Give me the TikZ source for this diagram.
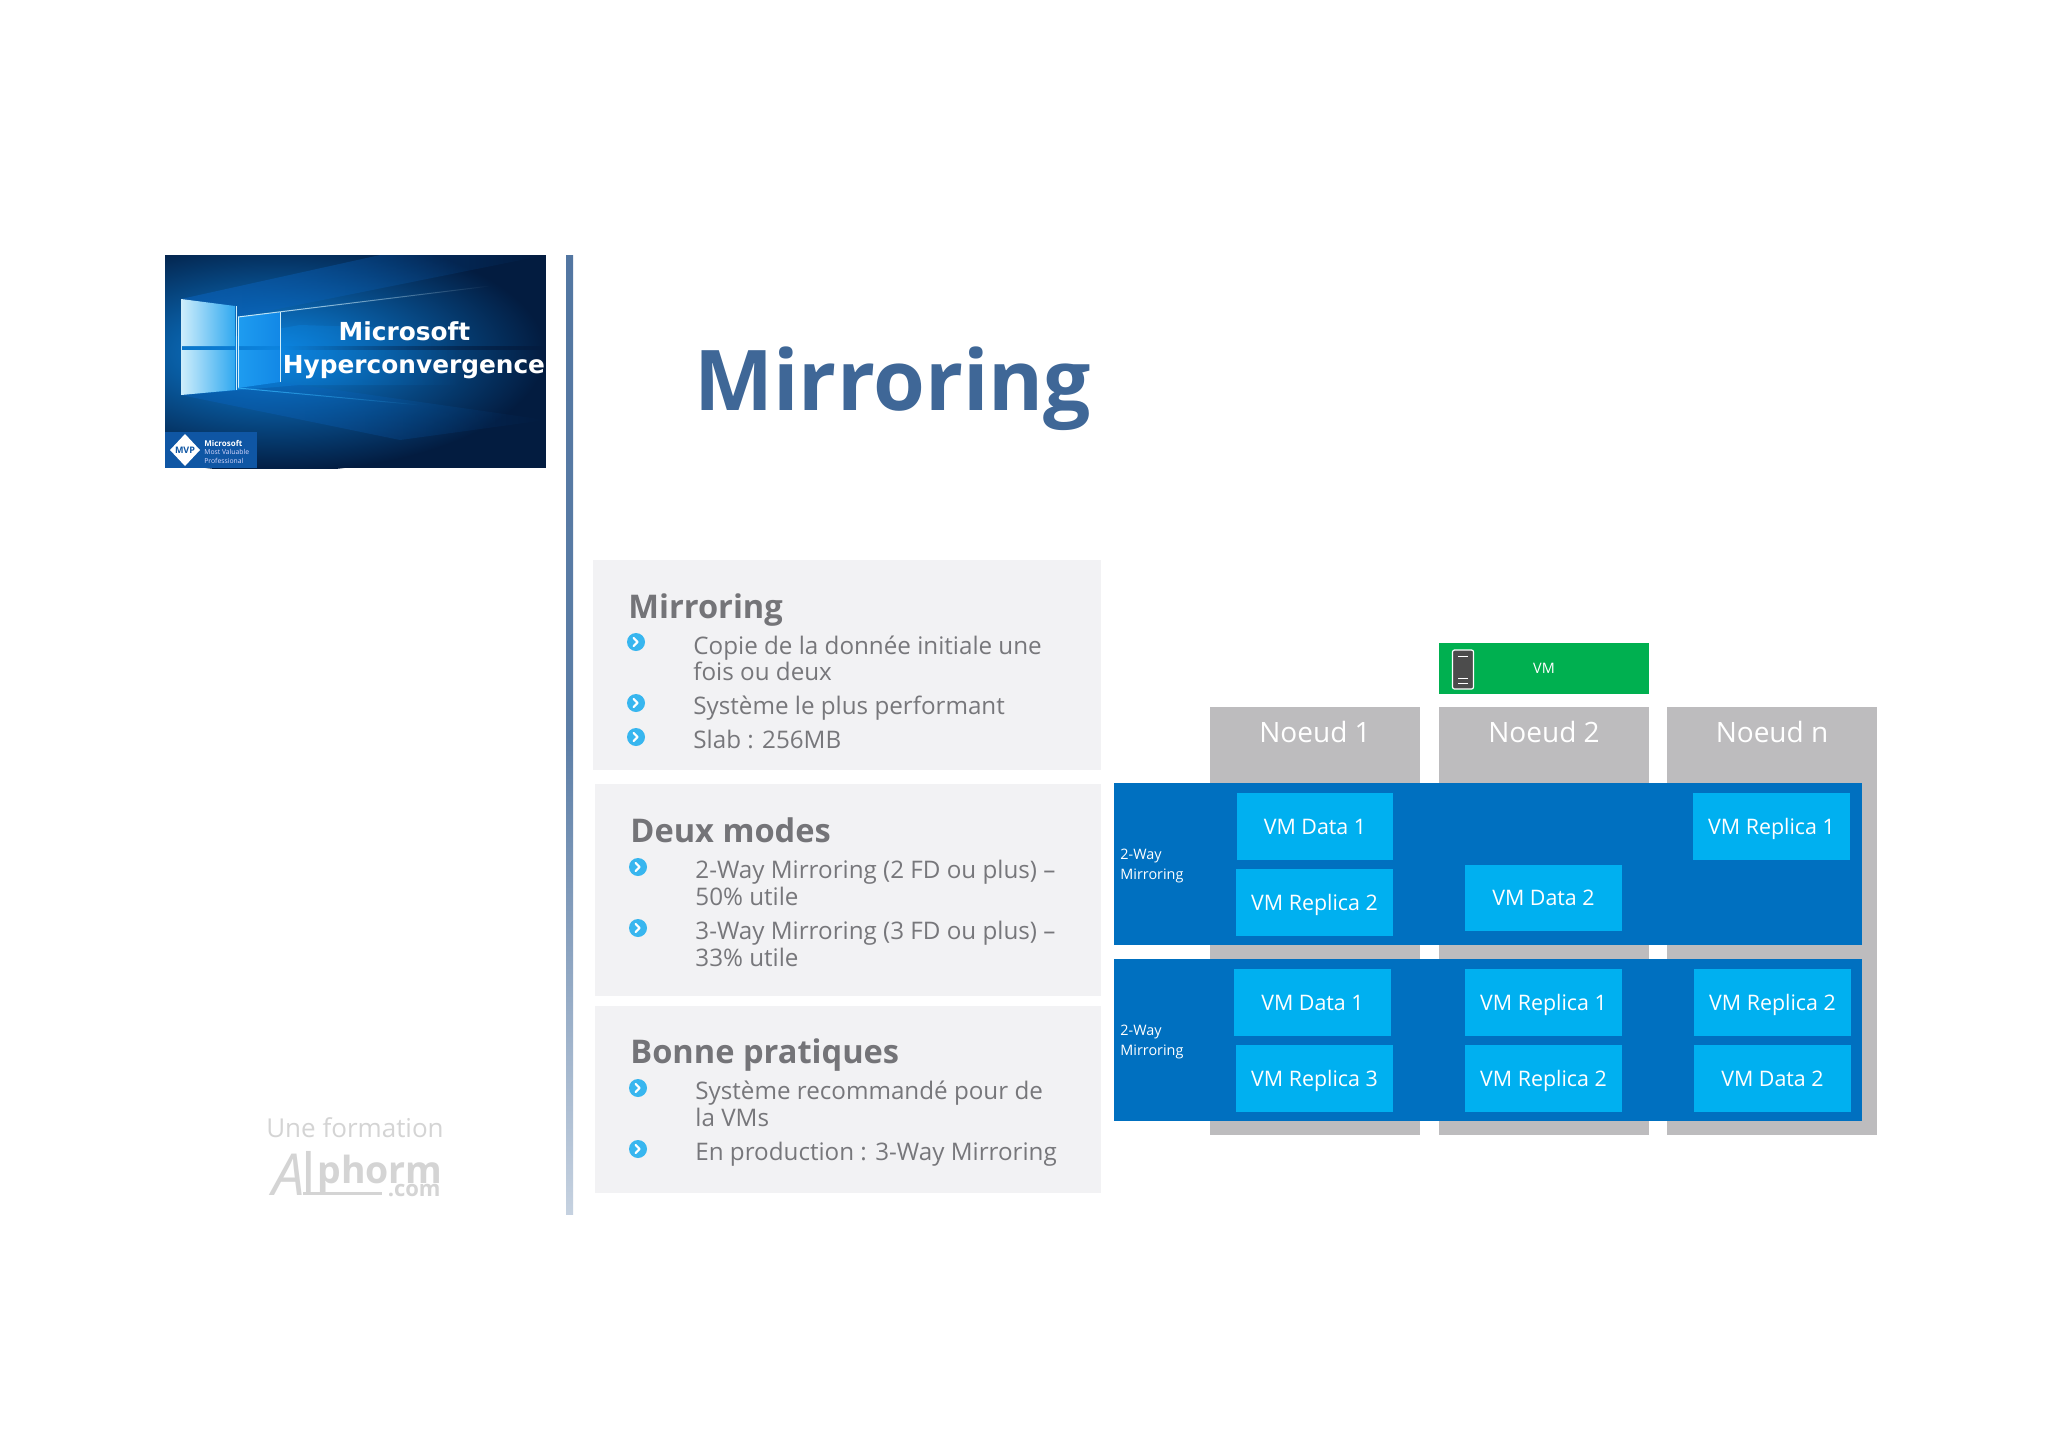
\documentclass[tikz,border=0pt]{standalone}
\usepackage{fontspec}
\setmainfont{Open Sans}
\newfontfamily\logofont{DejaVu Sans}
\usetikzlibrary{fadings}
\definecolor{grayc}{HTML}{BDBCBE}
\definecolor{zonec}{HTML}{0070C0}
\definecolor{boxc}{HTML}{00B0F0}
\definecolor{greenc}{HTML}{00B050}
\definecolor{panelc}{HTML}{F2F2F4}
\definecolor{bodyc}{HTML}{77777B}
\definecolor{headc}{HTML}{747478}
\definecolor{titlec}{HTML}{3F6797}
\definecolor{bulletc}{HTML}{38B6EF}
\definecolor{navyc}{HTML}{031C40}
\definecolor{logoc}{HTML}{D4D4D4}
\definecolor{glowc}{HTML}{0C86E2}
\definecolor{beamc}{HTML}{0A62BC}
\definecolor{paneA}{HTML}{CFEEFB}
\definecolor{paneB}{HTML}{2FA8F0}
\definecolor{paneC}{HTML}{1E9CF0}
\definecolor{paneD}{HTML}{1288E6}
\definecolor{mvpc}{HTML}{0F56A4}
\newcommand{\fsz}[1]{\fontsize{#1pt}{#1pt}\selectfont}
\newcommand{\bul}[3]{%
  \node[bulletdot] (#1) at (#2,#3) {};
  \draw[white,line width=1.1pt,line cap=round,line join=round] ([xshift=-1.2pt,yshift=2pt]#1.center) -- ([xshift=0.8pt]#1.center) -- ([xshift=-1.2pt,yshift=-2pt]#1.center);}
\newcommand{\vmbox}[6]{\path[fill=boxc] (#2,#3) rectangle (#4,#5) node[midway,text=white,font=\fsz{10.7},text height=0.9em,text depth=0.13em] (#1) {#6};}
\tikzset{
  bulletdot/.style={circle,fill=bulletc,minimum size=9pt,inner sep=0pt},
  bodytext/.style={anchor=base west,inner sep=0pt,text=bodyc,font=\fsz{12.1},align=left},
  headtext/.style={anchor=base west,inner sep=0pt,text=headc,font=\fsz{16.3}\bfseries},
  waylabel/.style={anchor=base west,inner sep=0pt,text=white,font=\fsz{7.2}},
  nodelabel/.style={text=white,font=\fsz{14},text height=0.75em,text depth=0.22em},
}
\begin{document}
\begin{tikzpicture}[x=0.5pt,y=-0.5pt]
\useasboundingbox (0,0) rectangle (2048,1447);
\fill[white] (0,0) rectangle (2048,1447);
% picture
\begin{scope}
\clip (165,255) rectangle (546,468);
\fill[navyc] (165,255) rectangle (546,468);
\shade[inner color=glowc,outer color=navyc] (275,352) ellipse [x radius=270,y radius=120];
\fill[beamc,opacity=.6,path fading=east] (181,299) -- (380,255) -- (546,255) -- (238,317) -- (181,346) -- cycle;
\fill[beamc,opacity=.5,path fading=east] (181,395) -- (400,440) -- (546,420) -- (280,382) -- cycle;
\fill[glowc,opacity=.6,path fading=east] (181,346) -- (300,325) -- (460,330) -- (460,385) -- (300,385) -- (181,395) -- cycle;
\shade[left color=paneA,right color=paneB] (181,299) -- (235,306) -- (235,346) -- (181,346) -- cycle;
\shade[left color=paneC,right color=paneD] (238,317) -- (280,312) -- (280,346) -- (238,346) -- cycle;
\shade[left color=paneA,right color=paneB] (181,350) -- (235,350) -- (235,390) -- (181,395) -- cycle;
\shade[left color=paneC,right color=paneD] (238,350) -- (280,350) -- (280,382) -- (238,388) -- cycle;
\draw[paneA,line width=.5pt] (181,299) -- (181,395) (236,306) -- (236,390) (238,317) -- (238,388) (280,312) -- (280,382);
\draw[paneA,line width=.5pt,path fading=east] (238,317) -- (490,286);
\draw[paneB,line width=.5pt,path fading=east] (238,388) -- (420,405);
\fill[navyc,opacity=.85,path fading=west] (280,345.5) rectangle (546,350);
\fill[mvpc] (165,432) rectangle (257,468);
\fill[white] (185,434) -- (200,450) -- (185,466) -- (170,450) -- cycle;
\end{scope}
\node[text=mvpc,font=\fsz{4.5}\bfseries,inner sep=0pt] (mvp) at (185,450) {MVP};
\node[anchor=base west,inner sep=0pt,text=white,font=\fsz{4}\bfseries] (mvpa) at (204,446) {Microsoft};
\node[anchor=base west,inner sep=0pt,text=white!85!blue,font=\fsz{3.4}] (mvpb) at (204,454) {Most Valuable};
\node[anchor=base west,inner sep=0pt,text=white!85!blue,font=\fsz{3.4}] (mvpc) at (204,463) {Professional};
\node[anchor=base,inner sep=0pt,text=white,font=\logofont\fsz{12.4}\bfseries] (pica) at (404.5,340) {Microsoft};
\node[anchor=base,inner sep=0pt,text=white,font=\logofont\fsz{12.4}\bfseries] (picb) at (414,373) {Hyperconvergence};
% bar
\shade[top color=titlec!90!white,bottom color=titlec!30!white,middle color=titlec!85!white] (566,255) rectangle (573,1214);
% title
\node[anchor=base west,inner sep=0pt,text=titlec,font=\fsz{41.9}\bfseries] (title) at (694,410) {Mirroring};
% panels
\fill[panelc] (593,560) rectangle (1101,770);
\fill[panelc] (595,784) rectangle (1101,996);
\fill[panelc] (595,1006) rectangle (1101,1193);
% panel 1
\node[headtext] (h1) at (628,618) {Mirroring};
\bul{b11}{636}{642}\bul{b12}{636}{703}\bul{b13}{636}{737}
\node[bodytext] (t11) at (693,654) {Copie de la donnée initiale une};
\node[bodytext] (t11b) at (693,680) {fois ou deux};
\node[bodytext] (t12) at (693,714) {Système le plus performant};
\node[bodytext] (t13) at (693,748) {Slab : 256MB};
% panel 2
\node[headtext] (h2) at (630,842) {Deux modes};
\bul{b21}{638}{867}\bul{b22}{638}{928}
\node[bodytext] (t21) at (695,878) {2-Way Mirroring (2 FD ou plus) –};
\node[bodytext] (t21b) at (695,905) {50\% utile};
\node[bodytext] (t22) at (695,939) {3-Way Mirroring (3 FD ou plus) –};
\node[bodytext] (t22b) at (695,966) {33\% utile};
% panel 3
\node[headtext] (h3) at (630,1063) {Bonne pratiques};
\bul{b31}{638}{1088}\bul{b32}{638}{1149}
\node[bodytext] (t31) at (695,1099) {Système recommandé pour de};
\node[bodytext] (t31b) at (695,1126) {la VMs};
\node[bodytext] (t32) at (695,1160) {En production : 3-Way Mirroring};
% logo
\node[anchor=base,inner sep=0pt,text=logoc,font=\fsz{13}] (une) at (355,1137) {Une formation};
\node[anchor=base west,inner sep=0pt,text=logoc,font=\fsz{29}\itshape] (la) at (272,1195) {A};
\node[anchor=base west,inner sep=0pt,text=logoc,font=\fsz{29}] (ll) at (301,1195) {l};
\node[anchor=base west,inner sep=0pt,text=logoc,font=\fsz{18.7}\bfseries] (lp) at (317,1183) {phorm};
\node[anchor=base east,inner sep=0pt,text=logoc,font=\fsz{11}\bfseries] (lc) at (441,1196) {.com};
\draw[logoc,line width=1.5pt] (303,1193) -- (382,1193);
% columns
\path[fill=grayc] (1210,707) rectangle (1420,1135);
\path[fill=grayc] (1439,707) rectangle (1649,1135);
\path[fill=grayc] (1667,707) rectangle (1877,1135);
\node[nodelabel] (n1) at (1315,737) {Noeud 1};
\node[nodelabel] (n2) at (1544,737) {Noeud 2};
\node[nodelabel] (n3) at (1772,737) {Noeud n};
% vm
\path[fill=greenc] (1439,643) rectangle (1649,694) node[midway,text=white,font=\fsz{7.2}] (vm) {VM};
\node[draw=white,line width=.6pt,fill=black!70,rounded corners=1pt,minimum width=10.5pt,minimum height=19.5pt,inner sep=0pt] (srv) at (1463,669.5) {};
\draw[white,line width=.5pt] ([xshift=-2.5pt]srv.center) ++(0,-13.5) -- ++(5pt,0);
\draw[white,line width=.5pt] ([xshift=-2.5pt]srv.center) ++(0,8.5) -- ++(5pt,0);
\draw[white,line width=.5pt] ([xshift=-2.5pt]srv.center) ++(0,13.5) -- ++(5pt,0);
% zones
\fill[zonec] (1114,783) rectangle (1862,945);
\fill[zonec] (1114,959) rectangle (1862,1121);
\node[waylabel] (wa1) at (1120,859) {2-Way};
\node[waylabel] (wa2) at (1120,879) {Mirroring};
\node[waylabel] (wb1) at (1120,1035) {2-Way};
\node[waylabel] (wb2) at (1120,1055) {Mirroring};
\vmbox{a1}{1237}{793}{1393}{860}{VM Data 1}
\vmbox{a2}{1236}{869}{1393}{936}{VM Replica 2}
\vmbox{a3}{1465}{865}{1622}{931}{VM Data 2}
\vmbox{a4}{1693}{793}{1850}{860}{VM Replica 1}
\vmbox{c1}{1234}{969}{1391}{1036}{VM Data 1}
\vmbox{c2}{1236}{1045}{1393}{1112}{VM Replica 3}
\vmbox{c3}{1465}{969}{1622}{1036}{VM Replica 1}
\vmbox{c4}{1465}{1045}{1622}{1112}{VM Replica 2}
\vmbox{c5}{1694}{969}{1851}{1036}{VM Replica 2}
\vmbox{c6}{1694}{1045}{1851}{1112}{VM Data 2}
\end{tikzpicture}
\end{document}
